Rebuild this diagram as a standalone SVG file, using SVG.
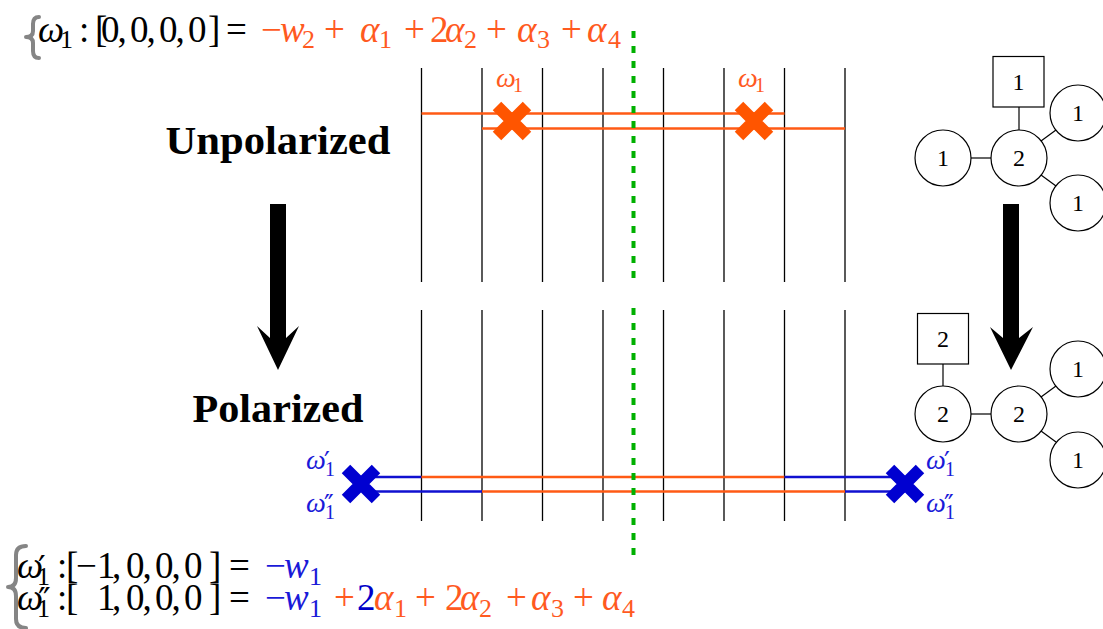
<svg xmlns="http://www.w3.org/2000/svg" xmlns:xlink="http://www.w3.org/1999/xlink" width="1103" height="629" viewBox="0 0 1103 629">
<style>
.v{stroke:#000;stroke-width:1.3}
.or{stroke:#ff5a14;stroke-width:2.4;fill:none}
.bl{stroke:#1010d0;stroke-width:2.4;fill:none}
.nd{fill:#fff;stroke:#000;stroke-width:1.2}
.ed{stroke:#000;stroke-width:1.2}
.m{font-family:"Liberation Serif","DejaVu Serif",serif;font-size:37px}
.lb{font-family:"Liberation Serif","DejaVu Serif",serif;font-size:28px}
.q{font-family:"Liberation Serif","DejaVu Serif",serif;font-size:24px;text-anchor:middle}
.i{font-style:italic}
.s{font-size:26px}
.ss{font-size:20px}
.pr{font-family:"DejaVu Sans",sans-serif;font-size:34px}
.pr2{font-family:"DejaVu Sans",sans-serif;font-size:26px}
.k{fill:#000}
.o{fill:#ff5a1f}
.b{fill:#1a1ad8}
.b2{fill:#0000c8}
.brace{fill:none;stroke:#858585;stroke-width:4;stroke-linecap:round;stroke-linejoin:round}
.green{stroke:#00b000;stroke-width:4;stroke-dasharray:7 8}
.title{font-family:"Liberation Serif","DejaVu Serif",serif;font-weight:bold;font-size:40px;text-anchor:middle}
</style>
<defs>
<path id="cross" d="M-15,-15 L15,15 M-15,15 L15,-15" stroke-width="12" fill="none"/>
</defs>
<rect width="1103" height="629" fill="#fff"/>

<!-- top formula -->
<g id="formula-top">
<path class="brace" d="M39,17 Q33,17 33,24 L33,31 Q33,37 26,37 Q33,37 33,43 L33,51 Q33,58 39,58"/>
<text class="m k"><tspan class="i" x="38" y="42">ω</tspan><tspan class="s" x="60" y="48">1</tspan><tspan x="79" y="42">:</tspan><tspan x="95" y="42">[</tspan><tspan x="101">0</tspan><tspan x="117.5">,</tspan><tspan x="130">0</tspan><tspan x="146.5">,</tspan><tspan x="159">0</tspan><tspan x="175.5">,</tspan><tspan x="188">0</tspan><tspan x="208">]</tspan><tspan x="226">=</tspan><tspan class="o" x="261">−</tspan><tspan class="o i" x="280">w</tspan><tspan class="o s" x="302" y="48">2</tspan><tspan class="o" x="324" y="42">+</tspan><tspan class="o i" x="360">α</tspan><tspan class="o s" x="379" y="48">1</tspan><tspan class="o" x="404" y="42">+</tspan><tspan class="o" x="430">2</tspan><tspan class="o i" x="445">α</tspan><tspan class="o s" x="464" y="48">2</tspan><tspan class="o" x="486" y="42">+</tspan><tspan class="o i" x="517">α</tspan><tspan class="o s" x="537" y="48">3</tspan><tspan class="o" x="561" y="42">+</tspan><tspan class="o i" x="587">α</tspan><tspan class="o s" x="608" y="48">4</tspan></text>
</g>

<!-- bottom formulas -->
<g id="formula-bottom">
<path class="brace" d="M26,546 Q16,546 16,555 L16,578 Q16,587 8,587 Q16,587 16,596 L16,619 Q16,628 26,628"/>
<text class="m k"><tspan class="i" x="17" y="578">ω</tspan><tspan class="pr" x="38" y="580">′</tspan><tspan class="s" x="37" y="585">1</tspan><tspan x="57" y="578">:</tspan><tspan x="66">[</tspan><tspan x="76">−</tspan><tspan x="97">1</tspan><tspan x="112">,</tspan><tspan x="126">0</tspan><tspan x="142.5">,</tspan><tspan x="155">0</tspan><tspan x="171.5">,</tspan><tspan x="184">0</tspan><tspan x="209">]</tspan><tspan x="229">=</tspan><tspan class="b" x="265">−</tspan><tspan class="b i" x="284">w</tspan><tspan class="b s" x="309" y="585">1</tspan></text>
<text class="m k"><tspan class="i" x="17" y="610">ω</tspan><tspan class="pr" x="38" y="612">″</tspan><tspan class="s" x="37" y="617">1</tspan><tspan x="57" y="610">:</tspan><tspan x="66">[</tspan><tspan x="97">1</tspan><tspan x="112">,</tspan><tspan x="126">0</tspan><tspan x="142.5">,</tspan><tspan x="155">0</tspan><tspan x="171.5">,</tspan><tspan x="184">0</tspan><tspan x="209">]</tspan><tspan x="229">=</tspan><tspan class="b" x="265">−</tspan><tspan class="b i" x="284">w</tspan><tspan class="b s" x="309" y="617">1</tspan><tspan class="o" x="334" y="610">+</tspan><tspan class="b2" x="357">2</tspan><tspan class="o i" x="374">α</tspan><tspan class="o s" x="394" y="617">1</tspan><tspan class="o" x="415" y="610">+</tspan><tspan class="o" x="445">2</tspan><tspan class="o i" x="460">α</tspan><tspan class="o s" x="479" y="617">2</tspan><tspan class="o" x="506" y="610">+</tspan><tspan class="o i" x="531">α</tspan><tspan class="o s" x="551" y="617">3</tspan><tspan class="o" x="573" y="610">+</tspan><tspan class="o i" x="602">α</tspan><tspan class="o s" x="622" y="617">4</tspan></text>
</g>

<!-- titles -->
<g id="label-unpolarized"><text class="title" x="278" y="154" textLength="225" lengthAdjust="spacingAndGlyphs">Unpolarized</text></g>
<g id="label-polarized"><text class="title" x="278" y="422" textLength="171" lengthAdjust="spacingAndGlyphs">Polarized</text></g>

<!-- big arrows -->
<g id="arrow-left"><path d="M270,204 H286 V338 L299,326 L278,370 L257,326 L270,338 Z" fill="#000"/></g>
<g id="arrow-right"><path d="M1003,204 H1019 V338 L1033,327 L1011,370 L990,327 L1003,338 Z" fill="#000"/></g>

<!-- brane vertical lines -->
<g id="branes-top">
<line class="v" x1="421.5" y1="68" x2="421.5" y2="282"/>
<line class="v" x1="482" y1="68" x2="482" y2="282"/>
<line class="v" x1="542.5" y1="68" x2="542.5" y2="282"/>
<line class="v" x1="603" y1="68" x2="603" y2="282"/>
<line class="v" x1="663.5" y1="68" x2="663.5" y2="282"/>
<line class="v" x1="724" y1="68" x2="724" y2="282"/>
<line class="v" x1="784.5" y1="68" x2="784.5" y2="282"/>
<line class="v" x1="845" y1="68" x2="845" y2="282"/>
</g>
<g id="branes-bottom">
<line class="v" x1="421.5" y1="310" x2="421.5" y2="521"/>
<line class="v" x1="482" y1="310" x2="482" y2="521"/>
<line class="v" x1="542.5" y1="310" x2="542.5" y2="521"/>
<line class="v" x1="603" y1="310" x2="603" y2="521"/>
<line class="v" x1="663.5" y1="310" x2="663.5" y2="521"/>
<line class="v" x1="724" y1="310" x2="724" y2="521"/>
<line class="v" x1="784.5" y1="310" x2="784.5" y2="521"/>
<line class="v" x1="845" y1="310" x2="845" y2="521"/>
</g>

<!-- horizontal strings -->
<g id="connectors">
<line class="or" x1="421.5" y1="113.5" x2="784.5" y2="113.5"/>
<line class="or" x1="482" y1="128.5" x2="845" y2="128.5"/>
<line class="bl" x1="362" y1="477" x2="421.5" y2="477"/>
<line class="or" x1="421.5" y1="477" x2="784.5" y2="477"/>
<line class="bl" x1="784.5" y1="477" x2="905" y2="477"/>
<line class="bl" x1="362" y1="491.5" x2="482" y2="491.5"/>
<line class="or" x1="482" y1="491.5" x2="845" y2="491.5"/>
<line class="bl" x1="845" y1="491.5" x2="905" y2="491.5"/>
</g>

<!-- green dashed line -->
<g id="divider">
<line class="green" x1="633.5" y1="31" x2="633.5" y2="280"/>
<line class="green" x1="633.5" y1="308" x2="633.5" y2="560"/>
</g>

<!-- crosses -->
<g id="cross-top-left"><use xlink:href="#cross" transform="translate(512,121)" stroke="#ff5500"/>
<text class="lb o"><tspan class="i" x="496" y="87">ω</tspan><tspan class="ss" x="513" y="92">1</tspan></text></g>
<g id="cross-top-right"><use xlink:href="#cross" transform="translate(754,121)" stroke="#ff5500"/>
<text class="lb o"><tspan class="i" x="738" y="87">ω</tspan><tspan class="ss" x="755" y="92">1</tspan></text></g>
<g id="cross-bottom-left"><use xlink:href="#cross" transform="translate(361,484)" stroke="#0000d0"/>
<text class="lb b"><tspan class="i" x="306" y="469">ω</tspan><tspan class="pr2" x="324" y="471">′</tspan><tspan class="ss" x="325" y="476">1</tspan></text>
<text class="lb b"><tspan class="i" x="306" y="512">ω</tspan><tspan class="pr2" x="324" y="514">″</tspan><tspan class="ss" x="325" y="519">1</tspan></text></g>
<g id="cross-bottom-right"><use xlink:href="#cross" transform="translate(905,484)" stroke="#0000d0"/>
<text class="lb b"><tspan class="i" x="926" y="469">ω</tspan><tspan class="pr2" x="944" y="471">′</tspan><tspan class="ss" x="945" y="476">1</tspan></text>
<text class="lb b"><tspan class="i" x="926" y="512">ω</tspan><tspan class="pr2" x="944" y="514">″</tspan><tspan class="ss" x="945" y="519">1</tspan></text></g>

<!-- quiver top -->
<g id="quiver-top-edges">
<line class="ed" x1="1019" y1="107" x2="1019" y2="130"/>
<line class="ed" x1="971" y1="158" x2="991" y2="158"/>
<line class="ed" x1="1041" y1="141" x2="1056" y2="130"/>
<line class="ed" x1="1041" y1="175" x2="1056" y2="186"/>
</g>
<g id="qt-flavor"><rect class="nd" x="993" y="56.5" width="51" height="50.5"/><text class="q" x="1018.5" y="90">1</text></g>
<g id="qt-left"><circle class="nd" cx="943" cy="158" r="28"/><text class="q" x="943" y="166">1</text></g>
<g id="qt-center"><circle class="nd" cx="1019" cy="158" r="28"/><text class="q" x="1019" y="166">2</text></g>
<g id="qt-upper"><circle class="nd" cx="1078" cy="113" r="28"/><text class="q" x="1078" y="121">1</text></g>
<g id="qt-lower"><circle class="nd" cx="1078" cy="203" r="28"/><text class="q" x="1078" y="211">1</text></g>

<!-- quiver bottom -->
<g id="quiver-bottom-edges">
<line class="ed" x1="943" y1="364" x2="943" y2="386"/>
<line class="ed" x1="971" y1="414" x2="991" y2="414"/>
<line class="ed" x1="1041" y1="397" x2="1056" y2="386"/>
<line class="ed" x1="1041" y1="431" x2="1056" y2="442"/>
</g>
<g id="qb-flavor"><rect class="nd" x="917.5" y="313.5" width="51" height="50.5"/><text class="q" x="943" y="347">2</text></g>
<g id="qb-left"><circle class="nd" cx="943" cy="414" r="28"/><text class="q" x="943" y="422">2</text></g>
<g id="qb-center"><circle class="nd" cx="1019" cy="414" r="28"/><text class="q" x="1019" y="422">2</text></g>
<g id="qb-upper"><circle class="nd" cx="1078" cy="369" r="28"/><text class="q" x="1078" y="377">1</text></g>
<g id="qb-lower"><circle class="nd" cx="1078" cy="460" r="28"/><text class="q" x="1078" y="468">1</text></g>
</svg>
